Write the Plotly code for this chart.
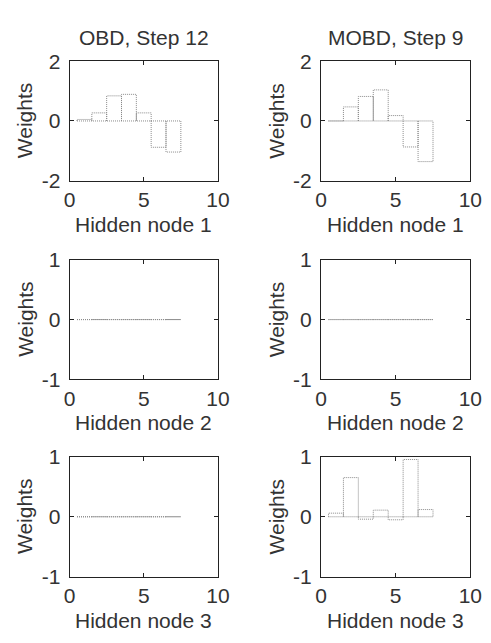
import plotly.graph_objects as go

# Data: weights for input nodes 1..7 feeding each hidden node
inputs = [1, 2, 3, 4, 5, 6, 7]
obd_h1 = [0.05, 0.27, 0.84, 0.89, 0.27, -0.88, -1.04]
obd_h2 = [0, 0, 0, 0, 0, 0, 0]
obd_h3 = [0, 0, 0, 0, 0, 0, 0]
mobd_h1 = [0.0, 0.47, 0.82, 1.04, 0.18, -0.87, -1.36]
mobd_h2 = [0, 0, 0, 0, 0, 0, 0]
mobd_h3 = [0.06, 0.65, -0.04, 0.11, -0.05, 0.95, 0.12]

col_titles = ["OBD, Step 12", "MOBD, Step 9"]
row_xlabels = ["Hidden node 1", "Hidden node 2", "Hidden node 3"]
ylabel = "Weights"
yranges = [[-2, 2], [-1, 1], [-1, 1]]
yticks = [[-2, 0, 2], [-1, 0, 1], [-1, 0, 1]]
yticktext = [["-2", "0", "2"], ["-1", "0", "1"], ["-1", "0", "1"]]
xticks = [0, 5, 10]

panels = [[obd_h1, mobd_h1], [obd_h2, mobd_h2], [obd_h3, mobd_h3]]

W, H = 491, 643
xdom_px = [(66, 220), (327, 482)]
ydom_px = [(51, 175), (257, 381), (461, 586)]

FONT = "Liberation Sans"
FS = 21
TXT = "#333"
BAR = "#8a8a8a"

fig = go.Figure()
annotations = []


def bar_outline(xs, ys, width=1.0):
    px, py = [], []
    for x, y in zip(xs, ys):
        l, r = x - width / 2, x + width / 2
        px += [l, l, r, r, None]
        py += [0, y, y, 0, None]
    # baseline
    px += [xs[0] - width / 2, xs[-1] + width / 2]
    py += [0, 0]
    return px, py


idx = 0
for r in range(3):
    for c in range(2):
        idx += 1
        xa = "x" if idx == 1 else f"x{idx}"
        ya = "y" if idx == 1 else f"y{idx}"
        px, py = bar_outline(inputs, panels[r][c])
        fig.add_trace(go.Scatter(x=px, y=py, mode="lines", xaxis=xa, yaxis=ya,
                                 line=dict(color=BAR, width=1, dash="1px,1px"),
                                 showlegend=False, hoverinfo="skip"))
        x0, x1 = xdom_px[c]
        y0, y1 = ydom_px[r]
        axcommon = dict(showgrid=False, zeroline=False, showline=True,
                        linecolor="#222", linewidth=1, mirror="allticks",
                        ticks="inside", ticklen=4, tickcolor="#222",
                        tickfont=dict(family=FONT, size=FS, color=TXT))
        fig.update_layout(**{
            ("xaxis" if idx == 1 else f"xaxis{idx}"): dict(
                domain=[x0 / W, x1 / W], range=[0, 10], tickvals=xticks,
                anchor=ya, **axcommon),
            ("yaxis" if idx == 1 else f"yaxis{idx}"): dict(
                domain=[1 - y1 / H, 1 - y0 / H], range=yranges[r],
                tickvals=yticks[r], ticktext=yticktext[r], anchor=xa,
                ticklabelstandoff=4, **axcommon),
        })
        cx = (x0 + x1) / 2
        cy = (y0 + y1) / 2
        # x title
        annotations.append(dict(text=row_xlabels[r], x=cx / W, y=1 - (y1 + 45) / H,
                                xref="paper", yref="paper", showarrow=False,
                                xanchor="center", yanchor="middle",
                                font=dict(family=FONT, size=FS, color=TXT)))
        # y title
        annotations.append(dict(text=ylabel, x=(x0 - 46) / W, y=1 - cy / H,
                                xref="paper", yref="paper", showarrow=False,
                                textangle=-90, xanchor="center", yanchor="middle",
                                font=dict(family=FONT, size=FS, color=TXT)))
        if r == 0:
            annotations.append(dict(text=col_titles[c], x=cx / W, y=1 - 26 / H,
                                    xref="paper", yref="paper", showarrow=False,
                                    xanchor="center", yanchor="middle",
                                    font=dict(family=FONT, size=FS, color=TXT)))

fig.update_layout(width=W, height=H, margin=dict(l=0, r=0, t=0, b=0),
                  paper_bgcolor="white", plot_bgcolor="white",
                  annotations=annotations)

fig.write_html("out.html")
